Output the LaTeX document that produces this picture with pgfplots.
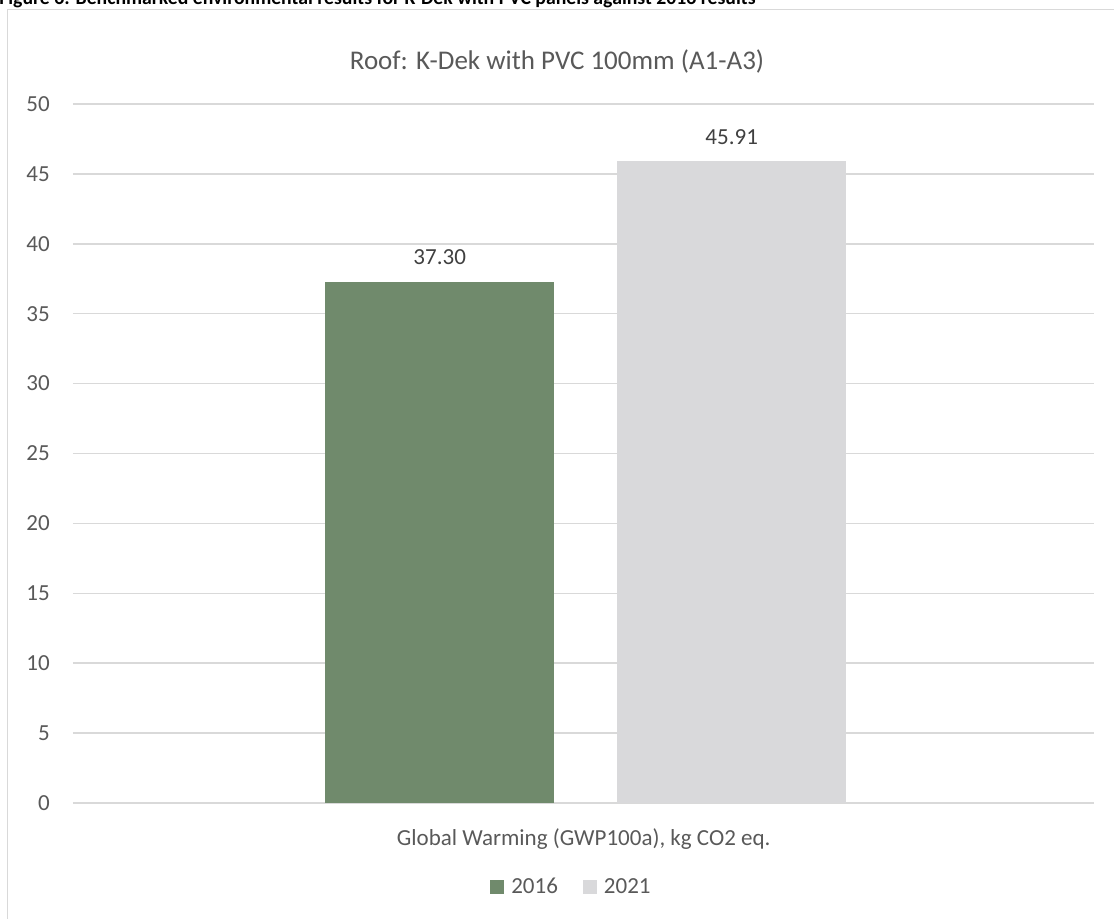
\documentclass[border=0pt]{standalone}
\usepackage{fontspec}
\setmainfont{Carlito}
\usepackage{pgfplots}
\pgfplotsset{compat=1.18}
\definecolor{gbar}{RGB}{112,138,108}
\definecolor{lbar}{RGB}{217,217,219}
\definecolor{gridc}{RGB}{217,217,217}
\definecolor{txt}{RGB}{89,89,89}
\definecolor{lbl}{RGB}{64,64,64}
\pgfplotsset{mylegend/.style={legend image code/.code={\fill[##1,draw=none] (0pt,-5.25pt) rectangle (10.5pt,5.25pt);}}}
\begin{document}
\begin{tikzpicture}[x=0.75pt,y=0.75pt]
\draw[gridc, line width=1.1pt] (7.5,-20) -- (7.5,908.5) -- (1130,908.5);
\node[anchor=base west, inner sep=0pt, font=\bfseries\fontsize{14.8}{17}\selectfont] at (-1,913) {Figure 6: Benchmarked environmental results for K-Dek with PVC panels against 2016 results};
\node[font=\fontsize{20.25}{24}\selectfont, text=txt] at (557,856) {Roof: K-Dek with PVC 100mm (A1-A3)};
\begin{axis}[
  at={(54.75pt,86.25pt)}, anchor=south west,
  scale only axis, width=766pt, height=524.25pt,
  xmin=0, xmax=1, ymin=0, ymax=50,
  axis line style={draw=none},
  major tick length=0pt,
  ymajorgrids, grid style={gridc, line width=1.1pt},
  ytick={0,5,...,50},
  xtick={0.5},
  xticklabels={Global Warming (GWP100a){,} kg CO2 eq.},
  /pgf/number format/assume math mode=true,
  tick label style={font=\fontsize{17.25}{20}\selectfont, text=txt},
  yticklabel style={anchor=east, inner sep=0pt, xshift=-17.25pt},
  xticklabel style={anchor=base, inner sep=0pt, yshift=-31.5pt},
  ybar=47.25pt, bar width=171.75pt,
  point meta=explicit symbolic,
  nodes near coords={\pgfplotspointmeta},
  every node near coord/.append style={anchor=south, inner sep=0pt, yshift=12.4pt, font=\fontsize{17.25}{20}\selectfont, text=lbl},
  legend columns=2,
  legend style={at={(axis description cs:0.4882,-0.1202)}, anchor=center, draw=none, fill=none,
    font=\fontsize{17.25}{20}\selectfont, text=txt, inner sep=0pt,
    cells={anchor=west},
    /tikz/every odd column/.append style={column sep=3.5pt},
    /tikz/every even column/.append style={column sep=16.5pt}},
]
\addplot[fill=gbar, draw=none, mylegend] coordinates {(0.502,37.30) [37.30]};
\addplot[fill=lbar, draw=none, mylegend] coordinates {(0.502,45.91) [45.91]};
\legend{2016,2021}
\end{axis}
\pgfresetboundingbox
\useasboundingbox (0,0) rectangle (1114,918);
\end{tikzpicture}
\end{document}
